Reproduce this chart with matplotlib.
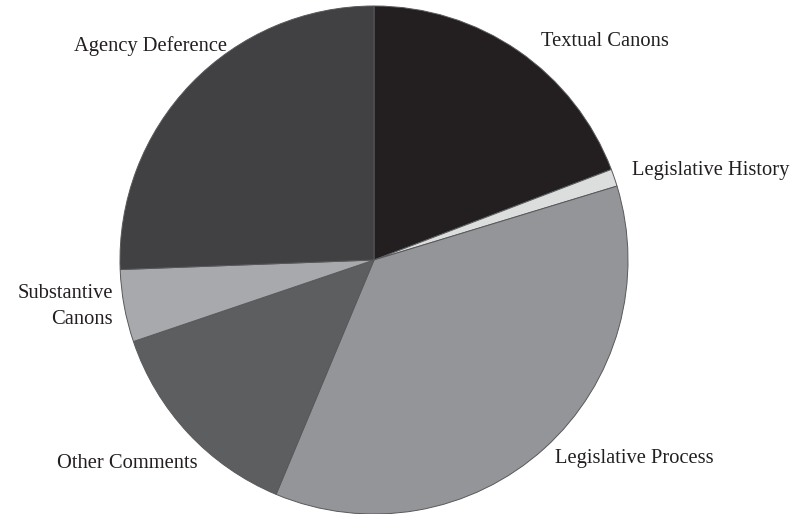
import matplotlib.pyplot as plt

# slice data, clockwise from 12 o'clock (percent)
labels = ["Textual Canons", "Legislative History", "Legislative Process",
          "Other Comments", "Substantive Canons", "Agency Deference"]
shares = [19.2, 1.1, 36.0, 13.5, 4.6, 25.6]
colors = ["#231f20", "#dcdddd", "#939598", "#5d5e60", "#a7a9ac", "#414042"]

plt.rcParams['font.family'] = ['Liberation Serif', 'DejaVu Serif']

W, H = 792, 514
cx, cy, r = 374, 260, 254

fig = plt.figure(figsize=(W / 100, H / 100), dpi=100)
ax = fig.add_axes([(cx - r) / W, (H - cy - r) / H, 2 * r / W, 2 * r / H])
ax.pie(shares, colors=colors, startangle=90, counterclock=False, radius=1,
       wedgeprops=dict(edgecolor="#58595b", linewidth=0.7))
ax.set_xlim(-1, 1)
ax.set_ylim(-1, 1)
ax.set_aspect('equal')
ax.axis('off')


def px(x, y):
    return (x - cx) / r, (cy - y) / r


# label positions in pixels, with alignment
label_pos = [
    (541, 42, 'left'),
    (632, 170, 'left'),
    (555, 458, 'left'),
    (198, 464, 'right'),
    (113, 307, 'right'),
    (227, 46, 'right'),
]
for lab, (x, y, ha) in zip(labels, label_pos):
    text = lab.replace("Substantive ", "Substantive\n")
    tx, ty = px(x, y)
    ax.text(tx, ty, text, ha=ha, va='center', fontsize=14.8, color="#231f20",
            multialignment='right', linespacing=1.5, clip_on=False)

fig.savefig("out.png", dpi=100)
